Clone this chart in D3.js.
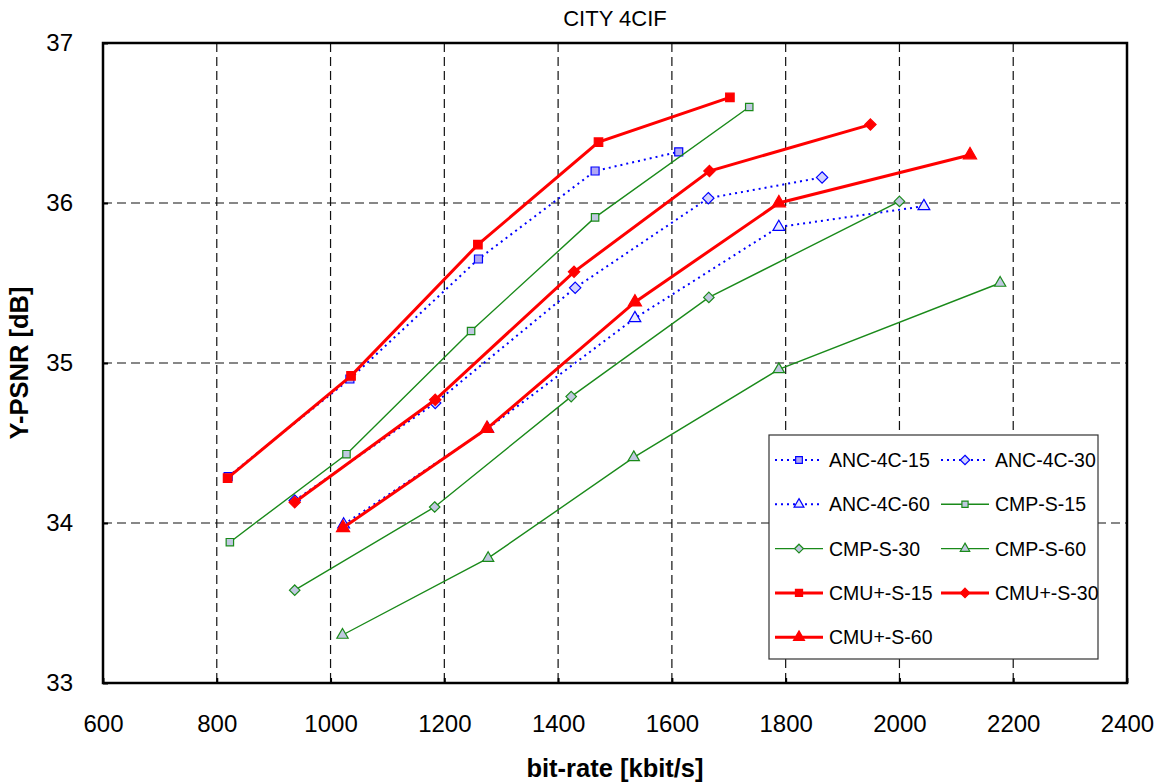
<!DOCTYPE html>
<html>
<head>
<meta charset="utf-8">
<title>CITY 4CIF</title>
<script src="https://d3js.org/d3.v7.min.js"></script>
<style>
  body { margin: 0; background: #fff; }
  text { font-family: Arial, "Liberation Sans", sans-serif; }
</style>
</head>
<body>
<svg id="chart" width="1157" height="782"></svg>
<script>
// values: bit-rate [kbit/s] and Y-PSNR [dB]
var ancX15 = [820, 1034, 1260, 1465, 1612];
var anc15  = [34.29, 34.90, 35.65, 36.20, 36.32];
var ancX30 = [937, 1184, 1430, 1664, 1864];
var anc30  = [34.14, 34.75, 35.47, 36.03, 36.16];
var ancX60 = [1023, 1276, 1535, 1788, 2043];
var anc60  = [33.99, 34.59, 35.28, 35.85, 35.98];

var cmpX15 = [823, 1028, 1247, 1465, 1736];
var cmp15  = [33.88, 34.43, 35.20, 35.91, 36.60];
var cmpX30 = [937, 1183, 1423, 1665, 2000];
var cmp30  = [33.58, 34.10, 34.79, 35.41, 36.01];
var cmpX60 = [1021, 1277, 1533, 1788, 2177];
var cmp60  = [33.30, 33.78, 34.41, 34.96, 35.50];

var cmuX15 = [819, 1036, 1259, 1471, 1702];
var cmu15  = [34.28, 34.92, 35.74, 36.38, 36.66];
var cmuX30 = [937, 1184, 1428, 1666, 1949];
var cmu30  = [34.13, 34.77, 35.57, 36.20, 36.49];
var cmuX60 = [1022, 1275, 1535, 1788, 2124];
var cmu60  = [33.97, 34.59, 35.38, 36.00, 36.30];

var xTicks = [600, 800, 1000, 1200, 1400, 1600, 1800, 2000, 2200, 2400];
var yTicks = [33, 34, 35, 36, 37];

var svg = d3.select("#chart");

// plot box
var pLeft = 103, pRight = 1127, pTop = 43, pBottom = 683;

var x = d3.scaleLinear().domain([600, 2400]).range([pLeft, pRight]);
var y = d3.scaleLinear().domain([33, 37]).range([pBottom, pTop]);

// grid
svg.append("g").selectAll("line")
  .data(xTicks.slice(1, -1))
  .enter().append("line")
    .attr("x1", d => x(d)).attr("x2", d => x(d))
    .attr("y1", pTop).attr("y2", pBottom)
    .attr("stroke", "#111").attr("stroke-width", 1.2)
    .attr("stroke-dasharray", "9,5");
svg.append("g").selectAll("line")
  .data(yTicks.slice(1, -1))
  .enter().append("line")
    .attr("x1", pLeft).attr("x2", pRight)
    .attr("y1", d => y(d)).attr("y2", d => y(d))
    .attr("stroke", "#111").attr("stroke-width", 1.2)
    .attr("stroke-dasharray", "9,5");

// axes (ticks inside the box)
var xAxis = svg.append("g")
  .attr("transform", "translate(0," + pBottom + ")")
  .call(d3.axisBottom(x).tickValues(xTicks).tickFormat(d3.format("d")).tickSize(-5).tickPadding(32));
var yAxis = svg.append("g")
  .attr("transform", "translate(" + pLeft + ",0)")
  .call(d3.axisLeft(y).tickValues(yTicks).tickFormat(d3.format("d")).tickSize(-5).tickPadding(30));
[xAxis, yAxis].forEach(function(a) {
  a.select(".domain").remove();
  a.selectAll("line").attr("stroke", "#000").attr("stroke-width", 2);
  a.selectAll("text").attr("font-size", 24).attr("fill", "#000")
    .style("font-family", "Arial, 'Liberation Sans', sans-serif");
});

svg.append("rect")
  .attr("x", pLeft).attr("y", pTop)
  .attr("width", pRight - pLeft).attr("height", pBottom - pTop)
  .attr("fill", "none").attr("stroke", "#000").attr("stroke-width", 2.5);

// titles
svg.append("text").attr("x", (pLeft + pRight) / 2).attr("y", 26)
  .attr("text-anchor", "middle").attr("font-size", 22).text("CITY 4CIF");
svg.append("text").attr("x", (pLeft + pRight) / 2).attr("y", 777)
  .attr("text-anchor", "middle").attr("font-size", 25.5).attr("font-weight", "bold")
  .text("bit-rate [kbit/s]");
svg.append("text")
  .attr("transform", "translate(28," + ((pTop + pBottom) / 2) + ") rotate(-90)")
  .attr("text-anchor", "middle").attr("font-size", 25.5).attr("font-weight", "bold")
  .text("Y-PSNR [dB]");

// diamond drawn as a square turned 45 degrees
var diamond = {
  draw: function(ctx, size) {
    var r = Math.sqrt(size / 2);
    ctx.moveTo(0, -r); ctx.lineTo(r, 0); ctx.lineTo(0, r); ctx.lineTo(-r, 0); ctx.closePath();
  }
};

// series styles
var series = [
  {name: "ANC-4C-15", xs: ancX15, ys: anc15, color: "#0000ff", width: 2, dash: "2,4", sym: d3.symbolSquare, size: 64, fill: "#b0a8f4", mstroke: "#0000ff"},
  {name: "ANC-4C-30", xs: ancX30, ys: anc30, color: "#0000ff", width: 2, dash: "2,4", sym: diamond, size: 64, fill: "#d4d4ff", mstroke: "#0000ff"},
  {name: "ANC-4C-60", xs: ancX60, ys: anc60, color: "#0000ff", width: 2, dash: "2,4", sym: d3.symbolTriangle, size: 60, fill: "#e8e8ff", mstroke: "#0000ff"},
  {name: "CMP-S-15", xs: cmpX15, ys: cmp15, color: "#1a8a1a", width: 1.4, dash: null, sym: d3.symbolSquare, size: 55, fill: "#c0c8e0", mstroke: "#1a8a1a"},
  {name: "CMP-S-30", xs: cmpX30, ys: cmp30, color: "#1a8a1a", width: 1.4, dash: null, sym: diamond, size: 55, fill: "#c0c8e0", mstroke: "#1a8a1a"},
  {name: "CMP-S-60", xs: cmpX60, ys: cmp60, color: "#1a8a1a", width: 1.4, dash: null, sym: d3.symbolTriangle, size: 55, fill: "#c0c8e0", mstroke: "#1a8a1a"},
  {name: "CMU+-S-15", xs: cmuX15, ys: cmu15, color: "#ff0000", width: 3, dash: null, sym: d3.symbolSquare, size: 72, fill: "#ff0000", mstroke: "#ff0000"},
  {name: "CMU+-S-30", xs: cmuX30, ys: cmu30, color: "#ff0000", width: 3, dash: null, sym: diamond, size: 64, fill: "#ff0000", mstroke: "#ff0000"},
  {name: "CMU+-S-60", xs: cmuX60, ys: cmu60, color: "#ff0000", width: 3, dash: null, sym: d3.symbolTriangle, size: 75, fill: "#ff0000", mstroke: "#ff0000"}
];

var line = d3.line().x(d => x(d[0])).y(d => y(d[1]));

series.forEach(function(s) {
  var pts = s.xs.map(function(v, i) { return [v, s.ys[i]]; });
  var g = svg.append("g");
  g.append("path").datum(pts)
    .attr("d", line)
    .attr("fill", "none")
    .attr("stroke", s.color)
    .attr("stroke-width", s.width)
    .attr("stroke-dasharray", s.dash);
  g.selectAll("path.mk").data(pts).enter().append("path")
    .attr("class", "mk")
    .attr("d", d3.symbol().type(s.sym).size(s.size))
    .attr("transform", d => "translate(" + x(d[0]) + "," + y(d[1]) + ")")
    .attr("fill", s.fill)
    .attr("stroke", s.mstroke)
    .attr("stroke-width", 1.2);
});

// legend
var lg = svg.append("g");
lg.append("rect").attr("x", 769).attr("y", 435).attr("width", 329).attr("height", 224)
  .attr("fill", "#fff").attr("stroke", "#333").attr("stroke-width", 1.2);
series.forEach(function(s, i) {
  var col = i % 2, row = Math.floor(i / 2);
  var lx = col === 0 ? 775 : 941;
  var ly = 460 + row * 44.3;
  lg.append("line").attr("x1", lx).attr("x2", lx + 48).attr("y1", ly).attr("y2", ly)
    .attr("stroke", s.color).attr("stroke-width", s.width)
    .attr("stroke-dasharray", s.dash);
  lg.append("path")
    .attr("d", d3.symbol().type(s.sym).size(s.size * 0.7))
    .attr("transform", "translate(" + (lx + 24) + "," + ly + ")")
    .attr("fill", s.fill).attr("stroke", s.mstroke).attr("stroke-width", 1.2);
  lg.append("text").attr("x", lx + 54).attr("y", ly + 7)
    .attr("font-size", 19.5).text(s.name);
});
</script>
</body>
</html>
